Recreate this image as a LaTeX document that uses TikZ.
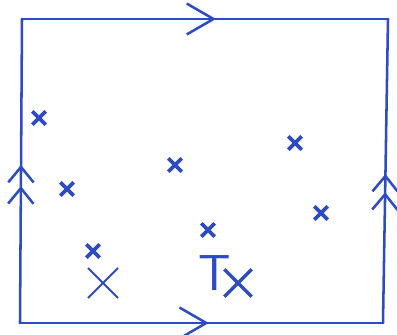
\documentclass[tikz,border=0pt]{standalone}
\usepackage{tikz}
\usetikzlibrary{arrows.meta,shapes.misc,decorations.markings}
\definecolor{penblue}{RGB}{45,75,195}

\begin{document}
\begin{tikzpicture}[x=0.025cm,y=-0.025cm,
  side/.style={draw=penblue,line width=1.8pt,line cap=round},
  chev/.style={postaction={decorate},decoration={markings,
    mark=at position #1 with {\arrow{Straight Barb[length=19pt,width=22pt]}}}},
  dchev/.style 2 args={postaction={decorate},decoration={markings,
    mark=at position #1 with {\arrow{Straight Barb[length=11pt,width=18pt]}},
    mark=at position #2 with {\arrow{Straight Barb[length=11pt,width=18pt]}}}},
  pt/.style={cross out,draw=penblue,line width=2.6pt,minimum size=7pt,inner sep=0pt},
  bigx/.style={cross out,draw=penblue,inner sep=0pt}]
\useasboundingbox (0,0) rectangle (397,335);
% corners of the square
\coordinate (bl) at (20,323);
\coordinate (br) at (383,323);
\coordinate (tr) at (388,19);
\coordinate (tl) at (22,19);
\draw[side,chev=0.53] (tl)--(tr);
\draw[side,chev=0.52] (bl)--(br);
\draw[side,dchev={0.45}{0.52}] (bl)--(tl);
\draw[side,dchev={0.43}{0.49}] (br)--(tr);
% points
\foreach \i/\p in {1/{(39,118)},2/{(295,143)},3/{(175,165)},4/{(67,189)},
                   5/{(321,213)},6/{(208,230)},7/{(93,251)}}{
  \node[pt] (p\i) at \p {};}
\node[bigx,line width=1.4pt,minimum size=20pt] (x) at (103,283) {};
\node[bigx,line width=2.4pt,minimum size=17pt] (tx) at (238,283) {};
\node[text=penblue,font=\sffamily\fontsize{36}{36}\selectfont,inner sep=0pt] (T) at (215,273) {T};
\end{tikzpicture}
\end{document}
